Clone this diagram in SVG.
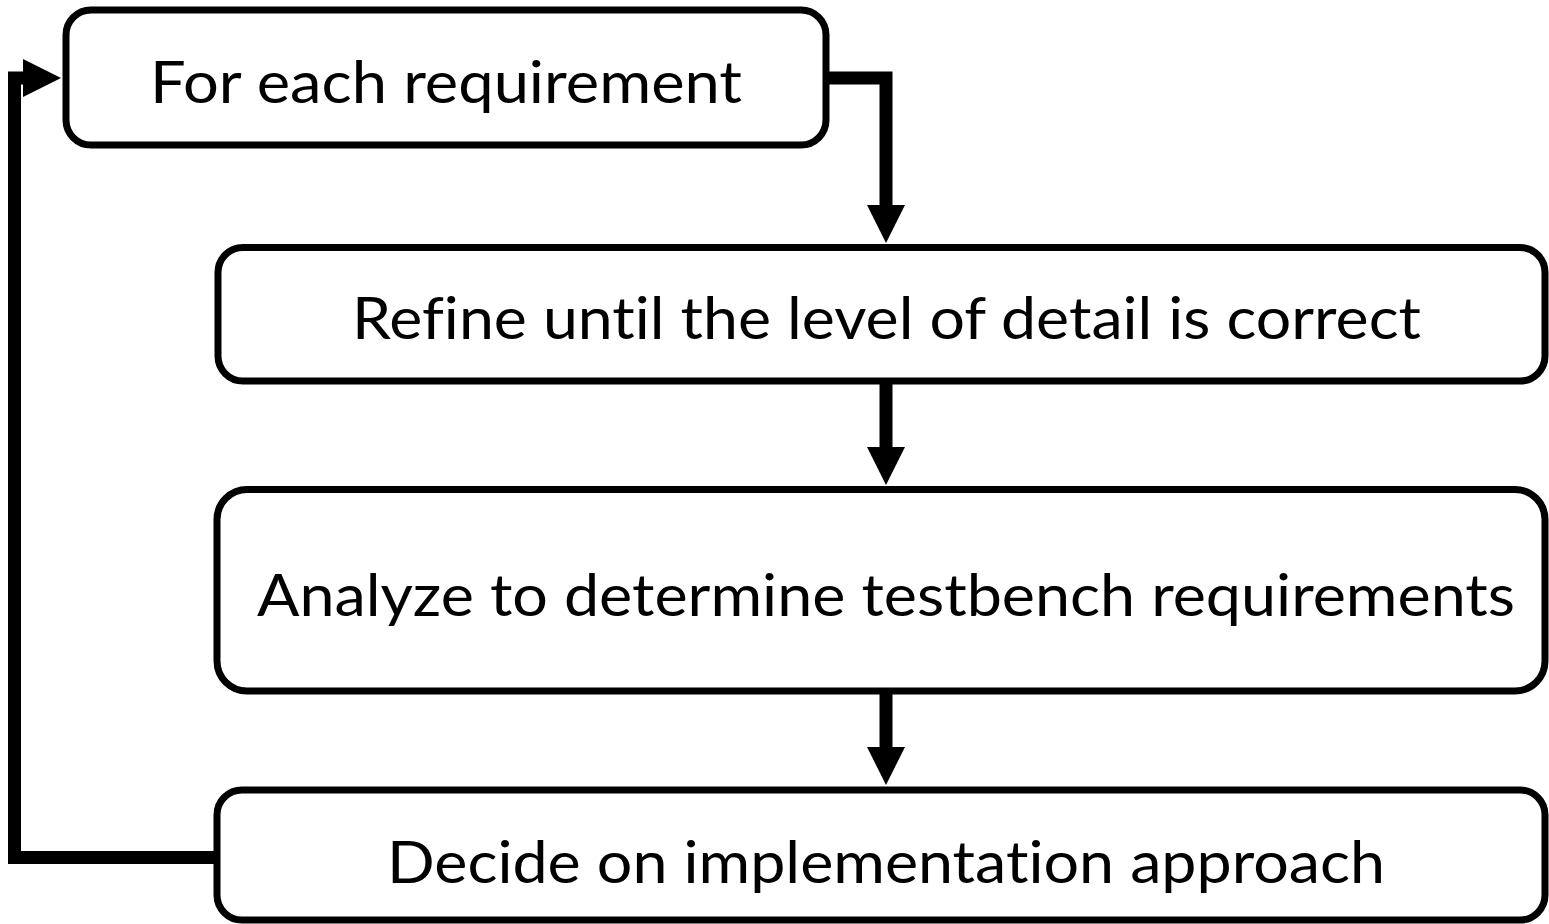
<svg xmlns="http://www.w3.org/2000/svg" width="1549" height="924" viewBox="0 0 1549 924">
<style>
.box{fill:#fff;stroke:#000;stroke-width:7}
.lbl{font-family:Lato,"Open Sans","Liberation Sans",sans-serif;font-size:58px;fill:#000;text-anchor:middle;font-variant-ligatures:none;font-feature-settings:"liga" 0,"dlig" 0}
.wire{fill:none;stroke:#000;stroke-width:13;stroke-linejoin:miter}
.head{fill:#000}
</style>
<rect width="1549" height="924" fill="#fff"/>
<g id="connectors">
<path class="wire" d="M826 78 H886 V206"/>
<polygon class="head" points="867,205 905,205 886,243"/>
<path class="wire" d="M886 384 V448"/>
<polygon class="head" points="867,447 905,447 886,485"/>
<path class="wire" d="M886 694 V748"/>
<polygon class="head" points="867,747 905,747 886,785"/>
<path class="wire" d="M214 857.5 H14.5 V78 H25"/>
<polygon class="head" points="23,59 23,97 61,78"/>
</g>
<g id="node1">
<rect class="box" x="66" y="10" width="760" height="135" rx="25"/>
<text class="lbl" x="446" y="103" textLength="592" lengthAdjust="spacingAndGlyphs">For each requirement</text>
</g>
<g id="node2">
<rect class="box" x="218" y="247.5" width="1327" height="133.5" rx="25"/>
<text class="lbl" x="886.5" y="339" textLength="1069" lengthAdjust="spacingAndGlyphs">Refine until the level of detail is correct</text>
</g>
<g id="node3">
<rect class="box" x="217" y="489.5" width="1328" height="201.5" rx="30"/>
<text class="lbl" x="886" y="616" textLength="1258" lengthAdjust="spacingAndGlyphs">Analyze to determine testbench requirements</text>
</g>
<g id="node4">
<rect class="box" x="217" y="790" width="1328" height="130" rx="25"/>
<text class="lbl" x="886" y="883" textLength="998" lengthAdjust="spacingAndGlyphs">Decide on implementation approach</text>
</g>
</svg>
